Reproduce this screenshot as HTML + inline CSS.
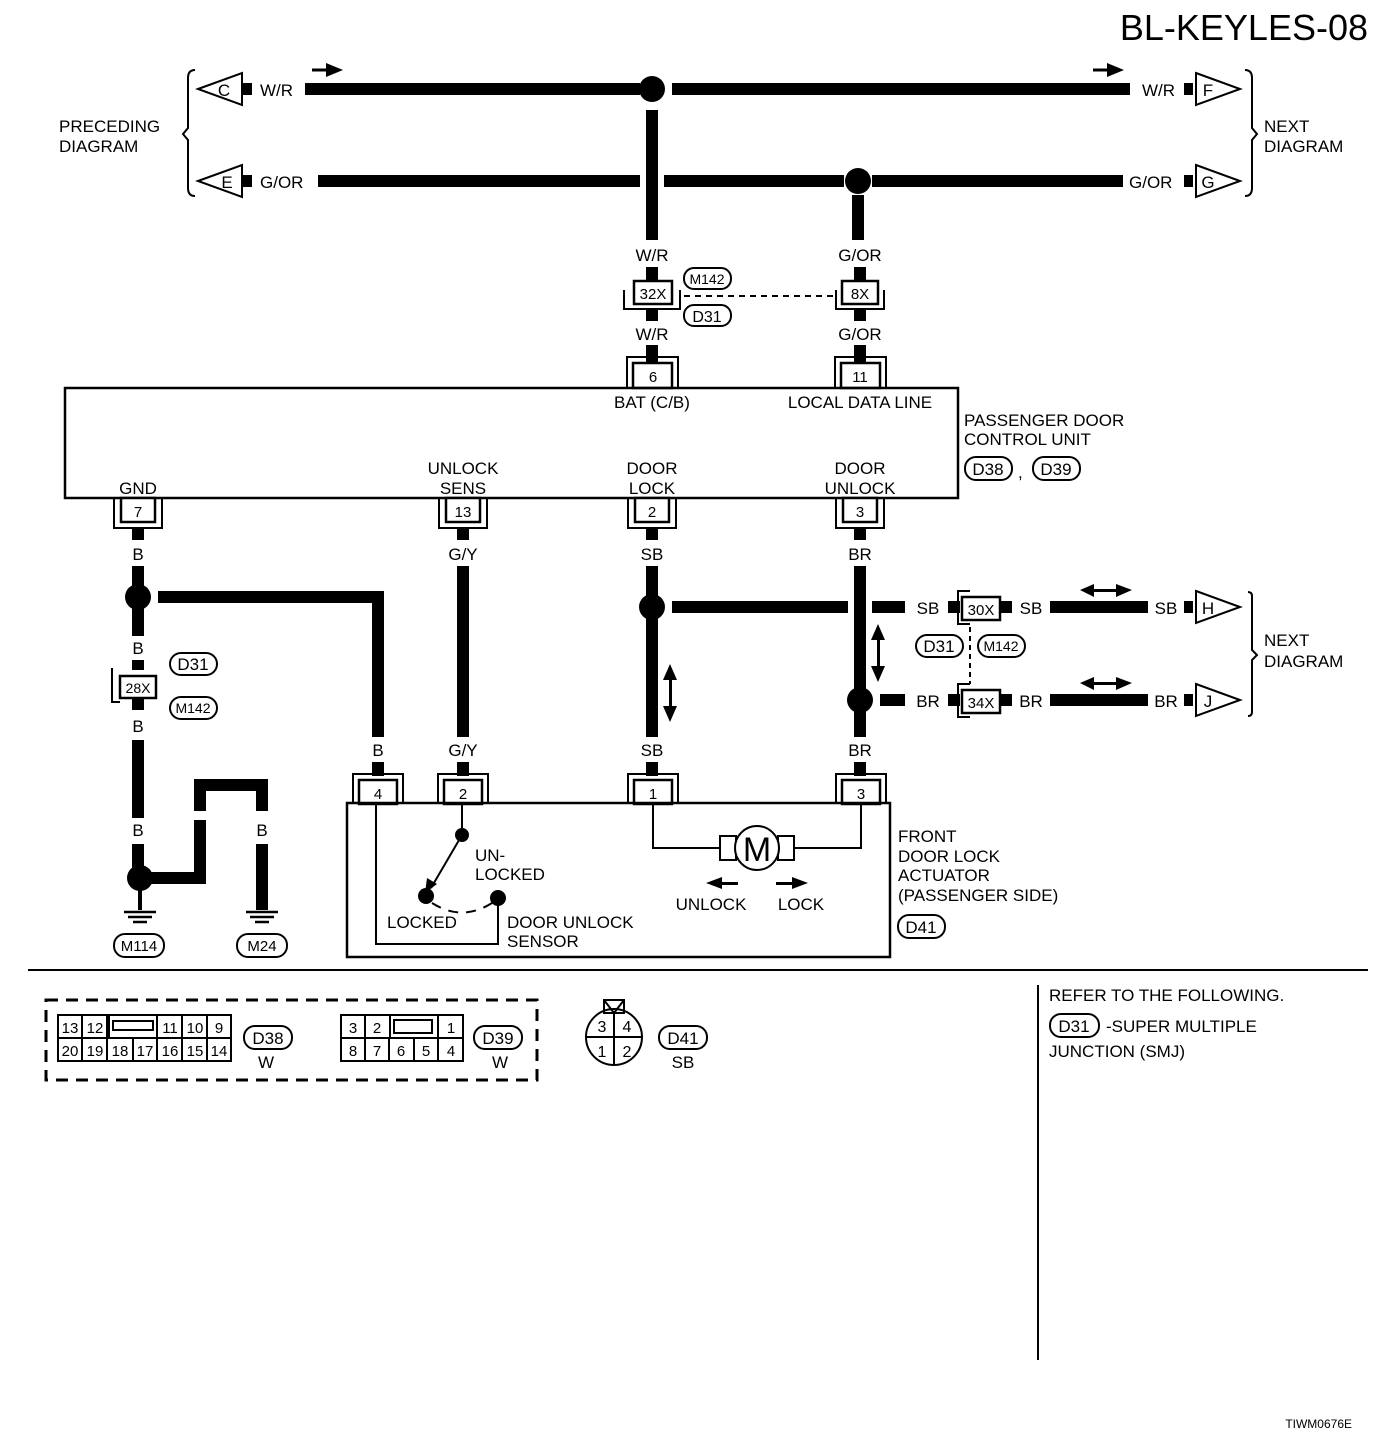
<!DOCTYPE html>
<html><head><meta charset="utf-8"><style>
html,body{margin:0;padding:0;background:#fff}
svg{display:block}
text{font-family:"Liberation Sans",Arial,sans-serif;fill:#000}
</style></head><body>
<svg width="1392" height="1442" viewBox="0 0 1392 1442" xmlns="http://www.w3.org/2000/svg">
<g font-size="17">
<text x="1368" y="40" font-size="36" text-anchor="end">BL-KEYLES-08</text>

<!-- braces -->
<path d="M195,70 Q188,70 188,78 V128 L183,134 L188,140 V188 Q188,196 195,196" fill="none" stroke="#000" stroke-width="2"/>
<path d="M1245,70 Q1252,70 1252,78 V128 L1257,134 L1252,140 V188 Q1252,196 1245,196" fill="none" stroke="#000" stroke-width="2"/>
<text x="59" y="132">PRECEDING</text><text x="59" y="152">DIAGRAM</text>
<text x="1264" y="132">NEXT</text><text x="1264" y="152">DIAGRAM</text>

<!-- top W/R -->
<polygon points="198,89 242,73 242,105" fill="#fff" stroke="#000" stroke-width="2"/>
<text x="224" y="96" text-anchor="middle">C</text>
<rect x="243" y="83" width="9" height="12"/>
<text x="260" y="96">W/R</text>
<rect x="305" y="83" width="335" height="12"/>
<rect x="672" y="83" width="458" height="12"/>
<circle cx="652" cy="89" r="13"/>
<text x="1142" y="96">W/R</text>
<rect x="1184" y="83" width="9" height="12"/>
<polygon points="1196,73 1240,89 1196,105" fill="#fff" stroke="#000" stroke-width="2"/>
<text x="1208" y="96" text-anchor="middle">F</text>
<path d="M312,70 H328" stroke="#000" stroke-width="3"/><polygon points="326,63 343,70 326,77"/>
<path d="M1093,70 H1109" stroke="#000" stroke-width="3"/><polygon points="1107,63 1124,70 1107,77"/>

<!-- G/OR -->
<polygon points="198,181 242,165 242,197" fill="#fff" stroke="#000" stroke-width="2"/>
<text x="227" y="188" text-anchor="middle">E</text>
<rect x="243" y="175" width="9" height="12"/>
<text x="260" y="188">G/OR</text>
<rect x="318" y="175" width="322" height="12"/>
<rect x="664" y="175" width="180" height="12"/>
<circle cx="858" cy="181" r="13"/>
<rect x="872" y="175" width="251" height="12"/>
<text x="1129" y="188">G/OR</text>
<rect x="1184" y="175" width="9" height="12"/>
<polygon points="1196,165 1240,181 1196,197" fill="#fff" stroke="#000" stroke-width="2"/>
<text x="1208" y="188" text-anchor="middle">G</text>

<!-- vertical W/R -->
<rect x="646" y="110" width="12" height="130"/>
<text x="652" y="261" text-anchor="middle">W/R</text>
<rect x="646" y="267" width="12" height="14"/>
<rect x="634" y="281" width="38" height="23" fill="#fff" stroke="#000" stroke-width="2.5"/>
<text x="653" y="299" text-anchor="middle" font-size="15">32X</text>
<path d="M624,290 V309 H680 V290" fill="none" stroke="#000" stroke-width="2"/>
<rect x="646" y="309" width="12" height="12"/>
<text x="652" y="340" text-anchor="middle">W/R</text>
<rect x="646" y="345" width="12" height="18"/>
<path d="M627,388 V357 H678 V388" fill="none" stroke="#000" stroke-width="2"/>
<rect x="633" y="363" width="39" height="25" fill="#fff" stroke="#000" stroke-width="2.5"/>
<text x="653" y="382" text-anchor="middle" font-size="15">6</text>
<rect x="684" y="268" width="47" height="21" rx="10" fill="#fff" stroke="#000" stroke-width="2"/>
<text x="707" y="284" text-anchor="middle" font-size="14">M142</text>
<rect x="684" y="305" width="47" height="21" rx="10" fill="#fff" stroke="#000" stroke-width="2"/>
<text x="707" y="322" text-anchor="middle" font-size="16">D31</text>
<path d="M684,296 H836" stroke="#000" stroke-width="2" stroke-dasharray="6,5"/>

<!-- vertical G/OR -->
<rect x="852" y="195" width="12" height="45"/>
<text x="860" y="261" text-anchor="middle">G/OR</text>
<rect x="854" y="267" width="12" height="14"/>
<rect x="842" y="281" width="36" height="23" fill="#fff" stroke="#000" stroke-width="2.5"/>
<text x="860" y="299" text-anchor="middle" font-size="15">8X</text>
<path d="M836,290 V309 H884 V290" fill="none" stroke="#000" stroke-width="2"/>
<rect x="854" y="309" width="12" height="12"/>
<text x="860" y="340" text-anchor="middle">G/OR</text>
<rect x="854" y="345" width="12" height="18"/>
<path d="M835,388 V357 H886 V388" fill="none" stroke="#000" stroke-width="2"/>
<rect x="841" y="363" width="39" height="25" fill="#fff" stroke="#000" stroke-width="2.5"/>
<text x="860" y="382" text-anchor="middle" font-size="15">11</text>

<!-- control unit -->
<rect x="65" y="388" width="893" height="110" fill="none" stroke="#000" stroke-width="2.5"/>
<text x="652" y="408" text-anchor="middle">BAT (C/B)</text>
<text x="860" y="408" text-anchor="middle">LOCAL DATA LINE</text>
<text x="964" y="426">PASSENGER DOOR</text><text x="964" y="445">CONTROL UNIT</text>
<rect x="965" y="457" width="47" height="23" rx="11" fill="none" stroke="#000" stroke-width="2"/>
<text x="988" y="475" text-anchor="middle">D38</text>
<text x="1018" y="478">,</text>
<rect x="1033" y="457" width="47" height="23" rx="11" fill="none" stroke="#000" stroke-width="2"/>
<text x="1056" y="475" text-anchor="middle">D39</text>
<text x="138" y="494" text-anchor="middle">GND</text>
<text x="463" y="474" text-anchor="middle">UNLOCK</text><text x="463" y="494" text-anchor="middle">SENS</text>
<text x="652" y="474" text-anchor="middle">DOOR</text><text x="652" y="494" text-anchor="middle">LOCK</text>
<text x="860" y="474" text-anchor="middle">DOOR</text><text x="860" y="494" text-anchor="middle">UNLOCK</text>

<!-- bottom connectors of CU -->
<g stroke="#000" fill="none" stroke-width="2">
<path d="M114,498 V528 H162 V498"/><path d="M439,498 V528 H487 V498"/>
<path d="M628,498 V528 H676 V498"/><path d="M836,498 V528 H884 V498"/>
</g>
<g fill="#fff" stroke="#000" stroke-width="2.5">
<rect x="121" y="498" width="34" height="24"/><rect x="446" y="498" width="34" height="24"/>
<rect x="635" y="498" width="34" height="24"/><rect x="843" y="498" width="34" height="24"/>
</g>
<g font-size="15" text-anchor="middle">
<text x="138" y="517">7</text><text x="463" y="517">13</text><text x="652" y="517">2</text><text x="860" y="517">3</text>
</g>
<rect x="132" y="528" width="12" height="12"/><rect x="457" y="528" width="12" height="12"/>
<rect x="646" y="528" width="12" height="12"/><rect x="854" y="528" width="12" height="12"/>
<g text-anchor="middle">
<text x="138" y="560">B</text><text x="463" y="560">G/Y</text><text x="652" y="560">SB</text><text x="860" y="560">BR</text>
</g>

<!-- GND wire -->
<rect x="132" y="566" width="12" height="70"/>
<circle cx="138" cy="597" r="13"/>
<rect x="158" y="591" width="226" height="12"/>
<rect x="372" y="591" width="12" height="146"/>
<text x="138" y="654" text-anchor="middle">B</text>
<rect x="132" y="660" width="12" height="10"/>
<rect x="120" y="676" width="36" height="22" fill="#fff" stroke="#000" stroke-width="2.5"/>
<text x="138" y="693" text-anchor="middle" font-size="14">28X</text>
<path d="M112,668 V702 H120" fill="none" stroke="#000" stroke-width="2"/>
<rect x="132" y="698" width="12" height="12"/>
<rect x="170" y="653" width="47" height="22" rx="11" fill="none" stroke="#000" stroke-width="2"/>
<text x="193" y="670" text-anchor="middle">D31</text>
<rect x="170" y="697" width="47" height="22" rx="11" fill="none" stroke="#000" stroke-width="2"/>
<text x="193" y="713" text-anchor="middle" font-size="14">M142</text>
<text x="138" y="732" text-anchor="middle">B</text>
<rect x="132" y="740" width="12" height="78"/>
<text x="138" y="836" text-anchor="middle">B</text>
<rect x="132" y="844" width="12" height="30"/>
<circle cx="140" cy="878" r="13"/>
<rect x="150" y="872" width="56" height="12"/>
<rect x="194" y="820" width="12" height="64"/>
<rect x="194" y="779" width="12" height="32"/>
<rect x="194" y="779" width="74" height="12"/>
<rect x="256" y="779" width="12" height="32"/>
<text x="200" y="836" text-anchor="middle">B</text><text x="262" y="836" text-anchor="middle">B</text>
<rect x="256" y="844" width="12" height="66"/>
<rect x="138" y="880" width="4" height="30"/>
<g stroke="#000" stroke-width="2.5">
<path d="M124,912 H156 M128,917 H152 M133,922 H147"/>
<path d="M246,912 H278 M250,917 H274 M255,922 H269"/>
</g>
<rect x="114" y="934" width="50" height="23" rx="11" fill="none" stroke="#000" stroke-width="2"/>
<text x="139" y="951" text-anchor="middle" font-size="15">M114</text>
<rect x="237" y="934" width="50" height="23" rx="11" fill="none" stroke="#000" stroke-width="2"/>
<text x="262" y="951" text-anchor="middle" font-size="15">M24</text>

<!-- G/Y -->
<rect x="457" y="566" width="12" height="171"/>
<!-- SB -->
<rect x="646" y="566" width="12" height="171"/>
<circle cx="652" cy="607" r="13"/>
<rect x="672" y="601" width="176" height="12"/>
<rect x="872" y="601" width="33" height="12"/>
<text x="928" y="614" text-anchor="middle">SB</text>
<rect x="948" y="601" width="12" height="12"/>
<rect x="962" y="597" width="38" height="23" fill="#fff" stroke="#000" stroke-width="2.5"/>
<text x="981" y="615" text-anchor="middle" font-size="15">30X</text>
<path d="M970,591 H958 V624 H970" fill="none" stroke="#000" stroke-width="2"/>
<rect x="1000" y="601" width="12" height="12"/>
<text x="1031" y="614" text-anchor="middle">SB</text>
<rect x="1050" y="601" width="98" height="12"/>
<text x="1166" y="614" text-anchor="middle">SB</text>
<rect x="1184" y="601" width="9" height="12"/>
<polygon points="1196,591 1240,607 1196,623" fill="#fff" stroke="#000" stroke-width="2"/>
<text x="1208" y="614" text-anchor="middle">H</text>
<!-- BR -->
<rect x="854" y="566" width="12" height="171"/>
<circle cx="860" cy="700" r="13"/>
<rect x="880" y="694" width="25" height="12"/>
<text x="928" y="707" text-anchor="middle">BR</text>
<rect x="948" y="694" width="12" height="12"/>
<rect x="962" y="690" width="38" height="23" fill="#fff" stroke="#000" stroke-width="2.5"/>
<text x="981" y="708" text-anchor="middle" font-size="15">34X</text>
<path d="M970,684 H958 V717 H970" fill="none" stroke="#000" stroke-width="2"/>
<rect x="1000" y="694" width="12" height="12"/>
<text x="1031" y="707" text-anchor="middle">BR</text>
<rect x="1050" y="694" width="98" height="12"/>
<text x="1166" y="707" text-anchor="middle">BR</text>
<rect x="1184" y="694" width="9" height="12"/>
<polygon points="1196,684 1240,700 1196,716" fill="#fff" stroke="#000" stroke-width="2"/>
<text x="1208" y="707" text-anchor="middle">J</text>
<path d="M970,627 V684" stroke="#000" stroke-width="2" stroke-dasharray="5,4"/>
<rect x="916" y="635" width="47" height="22" rx="11" fill="none" stroke="#000" stroke-width="2"/>
<text x="939" y="652" text-anchor="middle">D31</text>
<rect x="978" y="635" width="47" height="22" rx="11" fill="none" stroke="#000" stroke-width="2"/>
<text x="1001" y="651" text-anchor="middle" font-size="14">M142</text>
<path d="M1252,596 Q1252,592 1248,592 M1252,596 V650 L1257,655 L1252,660 V712 Q1252,716 1248,716" fill="none" stroke="#000" stroke-width="2"/>
<text x="1264" y="646">NEXT</text><text x="1264" y="667">DIAGRAM</text>

<!-- double arrows -->
<g>
<rect x="669" y="676" width="3" height="34"/><polygon points="663,680 670,664 677,680"/><polygon points="663,706 670,722 677,706"/>
<rect x="877" y="636" width="3" height="34"/><polygon points="871,640 878,624 885,640"/><polygon points="871,666 878,682 885,666"/>
<rect x="1090" y="589" width="30" height="3"/><polygon points="1094,584 1080,590 1094,597"/><polygon points="1116,584 1132,590 1116,597"/>
<rect x="1090" y="682" width="30" height="3"/><polygon points="1094,677 1080,683 1094,690"/><polygon points="1116,677 1132,683 1116,690"/>
</g>

<!-- labels above actuator -->
<g text-anchor="middle">
<text x="378" y="756">B</text><text x="463" y="756">G/Y</text><text x="652" y="756">SB</text><text x="860" y="756">BR</text>
</g>
<rect x="372" y="762" width="12" height="14"/><rect x="457" y="762" width="12" height="14"/>
<rect x="646" y="762" width="12" height="14"/><rect x="854" y="762" width="12" height="14"/>
<g stroke="#000" fill="none" stroke-width="2">
<path d="M353,803 V774 H403 V803"/><path d="M438,803 V774 H488 V803"/>
<path d="M628,803 V774 H678 V803"/><path d="M836,803 V774 H886 V803"/>
</g>
<g fill="#fff" stroke="#000" stroke-width="2.5">
<rect x="359" y="780" width="38" height="24"/><rect x="444" y="780" width="38" height="24"/>
<rect x="634" y="780" width="38" height="24"/><rect x="842" y="780" width="38" height="24"/>
</g>
<g font-size="15" text-anchor="middle">
<text x="378" y="799">4</text><text x="463" y="799">2</text><text x="653" y="799">1</text><text x="861" y="799">3</text>
</g>

<!-- actuator -->
<rect x="347" y="803" width="543" height="154" fill="none" stroke="#000" stroke-width="2.5"/>
<path d="M376,804 V944 H498 V898" fill="none" stroke="#000" stroke-width="2"/>
<path d="M462,804 V835" stroke="#000" stroke-width="2"/>
<circle cx="462" cy="835" r="7"/>
<path d="M462,835 L431,888" stroke="#000" stroke-width="2"/>
<polygon points="425,893 427,878 437,884"/>
<circle cx="426" cy="896" r="8"/><circle cx="498" cy="898" r="8"/>
<path d="M432,903 Q462,922 492,903" fill="none" stroke="#000" stroke-width="2" stroke-dasharray="10,8"/>
<text x="475" y="861">UN-</text><text x="475" y="880">LOCKED</text>
<text x="387" y="928">LOCKED</text>
<text x="507" y="928">DOOR UNLOCK</text><text x="507" y="947">SENSOR</text>
<path d="M653,804 V848 H720 M793,848 H861 V804" fill="none" stroke="#000" stroke-width="2"/>
<rect x="720" y="836" width="16" height="24" fill="none" stroke="#000" stroke-width="2"/>
<rect x="778" y="836" width="16" height="24" fill="none" stroke="#000" stroke-width="2"/>
<circle cx="757" cy="848" r="22" fill="#fff" stroke="#000" stroke-width="2"/>
<text x="757" y="861" text-anchor="middle" font-size="34">M</text>
<rect x="718" y="882" width="20" height="3"/><polygon points="722,877 706,883 722,889"/>
<rect x="776" y="882" width="20" height="3"/><polygon points="792,877 808,883 792,889"/>
<text x="711" y="910" text-anchor="middle">UNLOCK</text><text x="801" y="910" text-anchor="middle">LOCK</text>
<text x="898" y="842">FRONT</text><text x="898" y="862">DOOR LOCK</text><text x="898" y="881">ACTUATOR</text><text x="898" y="901">(PASSENGER SIDE)</text>
<rect x="898" y="915" width="47" height="23" rx="11" fill="none" stroke="#000" stroke-width="2"/>
<text x="921" y="933" text-anchor="middle">D41</text>

<!-- separators -->
<path d="M28,970 H1368" stroke="#000" stroke-width="2"/>
<path d="M1038,985 V1360" stroke="#000" stroke-width="2"/>
<text x="1049" y="1001">REFER TO THE FOLLOWING.</text>
<rect x="1050" y="1014" width="49" height="23" rx="11" fill="none" stroke="#000" stroke-width="2"/>
<text x="1074" y="1032" text-anchor="middle">D31</text>
<text x="1106" y="1032">-SUPER MULTIPLE</text>
<text x="1049" y="1057">JUNCTION (SMJ)</text>

<!-- connector face views -->
<rect x="46" y="1000" width="491" height="80" fill="none" stroke="#000" stroke-width="3" stroke-dasharray="12,8"/>
<g fill="none" stroke="#000" stroke-width="2">
<rect x="58" y="1015" width="173" height="46"/>
<path d="M58,1038 H231 M82,1015 V1061 M107,1015 V1061 M133,1038 V1061 M157,1038 V1061 M182,1015 V1061 M207,1015 V1061 M109,1015 V1038 H157 V1015"/>
<rect x="113" y="1021" width="40" height="9"/>
<rect x="341" y="1015" width="122" height="46"/>
<path d="M341,1038 H463 M365,1015 V1061 M389,1038 V1061 M414,1038 V1061 M438,1015 V1061 M390,1015 V1038"/>
<rect x="394" y="1020" width="38" height="13"/>
</g>
<g font-size="15" text-anchor="middle">
<text x="70" y="1033">13</text><text x="95" y="1033">12</text><text x="170" y="1033">11</text><text x="195" y="1033">10</text><text x="219" y="1033">9</text>
<text x="70" y="1056">20</text><text x="95" y="1056">19</text><text x="120" y="1056">18</text><text x="145" y="1056">17</text><text x="170" y="1056">16</text><text x="195" y="1056">15</text><text x="219" y="1056">14</text>
<text x="353" y="1033">3</text><text x="377" y="1033">2</text><text x="451" y="1033">1</text>
<text x="353" y="1056">8</text><text x="377" y="1056">7</text><text x="401" y="1056">6</text><text x="426" y="1056">5</text><text x="451" y="1056">4</text>
</g>
<rect x="244" y="1026" width="48" height="23" rx="11" fill="none" stroke="#000" stroke-width="2"/>
<text x="268" y="1044" text-anchor="middle">D38</text><text x="266" y="1068" text-anchor="middle">W</text>
<rect x="474" y="1026" width="48" height="23" rx="11" fill="none" stroke="#000" stroke-width="2"/>
<text x="498" y="1044" text-anchor="middle">D39</text><text x="500" y="1068" text-anchor="middle">W</text>
<circle cx="614" cy="1037" r="28" fill="none" stroke="#000" stroke-width="2"/>
<path d="M586,1037 H642 M614,1013 V1065" stroke="#000" stroke-width="2"/>
<path d="M604,1000 H624 V1013 H604 Z M604,1000 L614,1013 L624,1000" fill="none" stroke="#000" stroke-width="2"/>
<g font-size="16" text-anchor="middle">
<text x="602" y="1032">3</text><text x="627" y="1032">4</text><text x="602" y="1057">1</text><text x="627" y="1057">2</text>
</g>
<rect x="659" y="1026" width="48" height="23" rx="11" fill="none" stroke="#000" stroke-width="2"/>
<text x="683" y="1044" text-anchor="middle">D41</text><text x="683" y="1068" text-anchor="middle">SB</text>

<text x="1352" y="1428" text-anchor="end" font-size="12">TIWM0676E</text>
</g>
</svg>
</body></html>
